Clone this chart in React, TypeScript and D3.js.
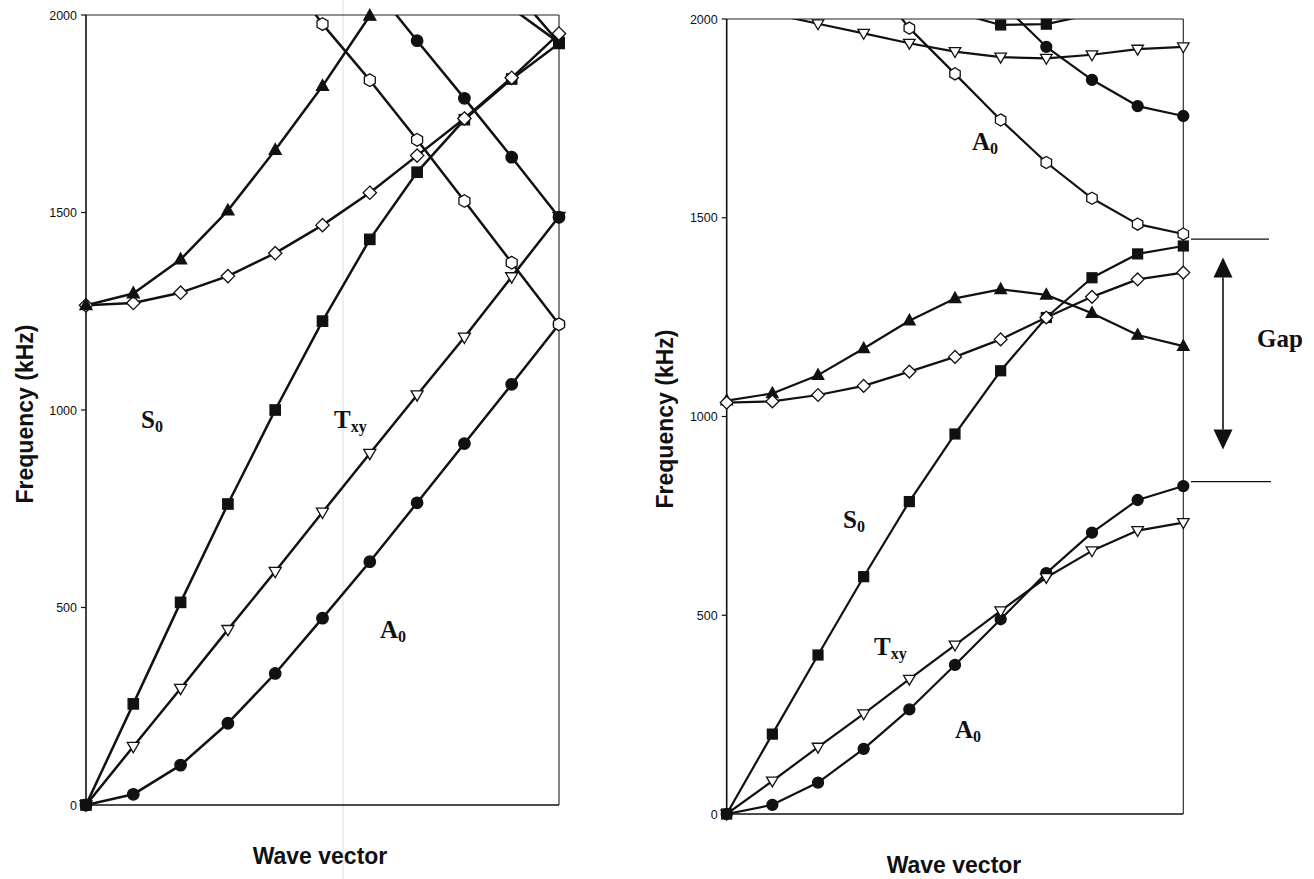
import React from "react";
import * as d3 from "d3";

// ---------- data ----------
const waveVectorSteps = [0, 1, 2, 3, 4, 5, 6, 7, 8, 9, 10];
const yTicks = [0, 500, 1000, 1500, 2000];

// Left panel (kHz)
const leftS0Square = [0, 256, 513, 762, 1000, 1225, 1432, 1602, 1735, 1838, 1928];
const leftTxyTriDown = [0, 148, 295, 444, 591, 741, 890, 1038, 1184, 1337, 1490];
const leftA0Circle = [0, 27, 101, 207, 333, 473, 616, 765, 915, 1065, 1217];
const leftDiamond = [1265, 1271, 1297, 1339, 1397, 1468, 1550, 1644, 1738, 1841, 1953];
const leftTriUp = [1265, 1295, 1381, 1505, 1658, 1820, 1998, null, null, null, null];
const leftHexagon = [null, null, null, null, 2140, 1977, 1835, 1684, 1529, 1373, 1217];
const leftUpperCircle = [null, null, null, null, null, null, 2083, 1935, 1789, 1640, 1488];
const leftFoldA = [null, null, null, null, null, null, null, null, null, 2017, 1930];
const leftFoldB = [null, null, null, null, null, null, null, null, null, 2069, 1930];

// Right panel (kHz)
const rightS0Square = [0, 201, 400, 597, 786, 956, 1115, 1249, 1349, 1409, 1429];
const rightTxyTriDown = [0, 83, 168, 252, 339, 425, 511, 595, 662, 713, 733];
const rightA0Circle = [0, 23, 79, 164, 263, 375, 490, 606, 708, 790, 825];
const rightDiamond = [1035, 1038, 1054, 1077, 1113, 1150, 1194, 1249, 1301, 1345, 1362];
const rightTriUp = [1040, 1058, 1104, 1171, 1241, 1297, 1320, 1306, 1260, 1205, 1177];
const rightHexagon = [null, null, null, 2120, 1977, 1862, 1746, 1639, 1549, 1484, 1459];
const rightUpperTriDown = [2040, 2013, 1988, 1964, 1939, 1918, 1904, 1901, 1910, 1924, 1930];
const rightUpperCircle = [null, null, null, null, null, null, 2042, 1930, 1847, 1781, 1756];
const rightUpperSquare = [null, null, null, null, null, 2017, 1985, 1987, 2012, null, null];

const gapBounds = [836, 1446];
const gapArrow = [917, 1400];

type Marker = "square" | "circle" | "triUp" | "triDown" | "diamond" | "hexagon";
interface Series { values: (number | null)[]; marker: Marker; filled: boolean; }

const leftSeries: Series[] = [
  { values: leftFoldA, marker: "square", filled: true },
  { values: leftFoldB, marker: "square", filled: true },
  { values: leftA0Circle, marker: "circle", filled: true },
  { values: leftTxyTriDown, marker: "triDown", filled: false },
  { values: leftUpperCircle, marker: "circle", filled: true },
  { values: leftS0Square, marker: "square", filled: true },
  { values: leftDiamond, marker: "diamond", filled: false },
  { values: leftTriUp, marker: "triUp", filled: true },
  { values: leftHexagon, marker: "hexagon", filled: false },
];

const rightSeries: Series[] = [
  { values: rightA0Circle, marker: "circle", filled: true },
  { values: rightTxyTriDown, marker: "triDown", filled: false },
  { values: rightUpperTriDown, marker: "triDown", filled: false },
  { values: rightUpperCircle, marker: "circle", filled: true },
  { values: rightS0Square, marker: "square", filled: true },
  { values: rightUpperSquare, marker: "square", filled: true },
  { values: rightTriUp, marker: "triUp", filled: true },
  { values: rightDiamond, marker: "diamond", filled: false },
  { values: rightHexagon, marker: "hexagon", filled: false },
];

interface Label { main: string; sub: string; x: number; y: number; }

function MarkerShape({ m, cx, cy, filled, s }: { m: Marker; cx: number; cy: number; filled: boolean; s: number }) {
  const fill = filled ? "#111" : "#fff";
  const common = { fill, stroke: "#111", strokeWidth: 1.3 };
  if (m === "square") return <rect x={cx - s * 0.45} y={cy - s * 0.45} width={s * 0.9} height={s * 0.9} {...common} />;
  if (m === "circle") return <circle cx={cx} cy={cy} r={s * 0.5} {...common} />;
  if (m === "triUp") {
    const w = s * 1.05, h = s * 0.95;
    return <polygon points={`${cx},${cy - h * 0.6} ${cx + w / 2},${cy + h * 0.4} ${cx - w / 2},${cy + h * 0.4}`} {...common} />;
  }
  if (m === "triDown") {
    const w = s * 1.05, h = s * 0.9;
    return <polygon points={`${cx},${cy + h * 0.6} ${cx + w / 2},${cy - h * 0.4} ${cx - w / 2},${cy - h * 0.4}`} {...common} />;
  }
  if (m === "diamond") {
    const r = s * 0.58;
    return <polygon points={`${cx},${cy - r} ${cx + r},${cy} ${cx},${cy + r} ${cx - r},${cy}`} {...common} />;
  }
  const r = s * 0.55;
  const pts = d3.range(6).map((k) => {
    const a = (-90 + 60 * k) * Math.PI / 180;
    return `${cx + r * Math.cos(a)},${cy + r * Math.sin(a)}`;
  }).join(" ");
  return <polygon points={pts} {...common} />;
}

function Panel({ id, x0, x1, yTop, yBottom, series, labels, lineW, markerSize, xLabelX, xLabelY, yLabelX, yLabelY }: any) {
  const x = d3.scaleLinear().domain([waveVectorSteps[0], waveVectorSteps[waveVectorSteps.length - 1]]).range([x0, x1]);
  const y = d3.scaleLinear().domain([0, 2000]).range([yBottom, yTop]);
  const line = d3.line<number | null>()
    .defined((v) => v != null)
    .x((_, i) => x(waveVectorSteps[i]))
    .y((v) => y(v as number));
  return (
    <g>
      <defs>
        <clipPath id={`clip-${id}`}>
          <rect x={x0} y={yTop} width={x1 - x0} height={yBottom - yTop} />
        </clipPath>
      </defs>
      {/* frame */}
      <line x1={x0} x2={x1} y1={yTop} y2={yTop} stroke="#222" strokeWidth={1.1} />
      <line x1={x1} x2={x1} y1={yTop} y2={yBottom} stroke="#222" strokeWidth={1.1} />
      <line x1={x0} x2={x1} y1={yBottom} y2={yBottom} stroke="#111" strokeWidth={1.6} />
      <line x1={x0} x2={x0} y1={yTop} y2={yBottom + 4} stroke="#111" strokeWidth={1.6} />
      {yTicks.map((t) => (
        <g key={t}>
          <line x1={x0 - 5} x2={x0} y1={y(t)} y2={y(t)} stroke="#111" strokeWidth={1.2} />
          <text x={x0 - 9} y={y(t)} dy="0.36em" textAnchor="end" fontFamily="'Liberation Sans', Arial, sans-serif" fontSize={12.5} fill="#111">{t}</text>
        </g>
      ))}
      <g clipPath={`url(#clip-${id})`}>
        {series.map((s: Series, i: number) => (
          <path key={i} d={line(s.values) || ""} fill="none" stroke="#111" strokeWidth={lineW} strokeLinejoin="round" />
        ))}
      </g>
      {series.map((s: Series, i: number) => (
        <g key={i}>
          {s.values.map((v, j) => (v != null && v <= 2000 ? (
            <MarkerShape key={j} m={s.marker} cx={x(waveVectorSteps[j])} cy={y(v)} filled={s.filled} s={markerSize} />
          ) : null))}
        </g>
      ))}
      {labels.map((l: Label, i: number) => (
        <text key={i} x={l.x} y={l.y} fontFamily="'Liberation Serif', 'Times New Roman', serif" fontWeight="bold" fontSize={25} fill="#111">
          {l.main}
          <tspan fontSize={16} dy={4}>{l.sub}</tspan>
        </text>
      ))}
      <text x={xLabelX} y={xLabelY} textAnchor="middle" fontFamily="'Liberation Sans', Arial, sans-serif" fontWeight="bold" fontSize={23} fill="#111">Wave vector</text>
      <text transform={`translate(${yLabelX},${yLabelY}) rotate(-90)`} textAnchor="middle" fontFamily="'Liberation Sans', Arial, sans-serif" fontWeight="bold" fontSize={23} fill="#111">Frequency (kHz)</text>
    </g>
  );
}

export default function App() {
  // right panel y scale used for gap annotation
  const ry = d3.scaleLinear().domain([0, 2000]).range([814, 19]);
  const ax = 1223;
  const headH = 20, headW = 19;
  return (
    <svg width={1314} height={879} style={{ position: "absolute", left: 0, top: 0, background: "#fff" }}>
      <rect x={0} y={0} width={1314} height={879} fill="#fff" />
      {/* scan artifact line */}
      <line x1={343} x2={343} y1={0} y2={879} stroke="#dcdcf2" strokeWidth={1} />
      <Panel id="left" x0={86} x1={559} yTop={15} yBottom={805} series={leftSeries} lineW={2.5} markerSize={11.5}
        labels={[
          { main: "S", sub: "0", x: 141, y: 428 },
          { main: "T", sub: "xy", x: 334, y: 428 },
          { main: "A", sub: "0", x: 380, y: 638 },
        ]}
        xLabelX={320} xLabelY={864} yLabelX={33} yLabelY={414} />
      <Panel id="right" x0={726.7} x1={1183.3} yTop={19} yBottom={814} series={rightSeries} lineW={2.2} markerSize={11}
        labels={[
          { main: "A", sub: "0", x: 972, y: 150 },
          { main: "S", sub: "0", x: 843, y: 528 },
          { main: "T", sub: "xy", x: 874, y: 655 },
          { main: "A", sub: "0", x: 955, y: 738 },
        ]}
        xLabelX={954} xLabelY={873} yLabelX={673} yLabelY={419} />
      {/* gap annotation */}
      <line x1={1191} x2={1269} y1={ry(gapBounds[1])} y2={ry(gapBounds[1])} stroke="#111" strokeWidth={1.3} />
      <line x1={1191} x2={1271} y1={ry(gapBounds[0])} y2={ry(gapBounds[0])} stroke="#111" strokeWidth={1.3} />
      <line x1={ax} x2={ax} y1={ry(gapArrow[1]) + headH} y2={ry(gapArrow[0]) - headH} stroke="#111" strokeWidth={1.6} />
      <polygon points={`${ax},${ry(gapArrow[1])} ${ax + headW / 2},${ry(gapArrow[1]) + headH} ${ax - headW / 2},${ry(gapArrow[1]) + headH}`} fill="#111" />
      <polygon points={`${ax},${ry(gapArrow[0])} ${ax + headW / 2},${ry(gapArrow[0]) - headH} ${ax - headW / 2},${ry(gapArrow[0]) - headH}`} fill="#111" />
      <text x={1257} y={347} fontFamily="'Liberation Serif', 'Times New Roman', serif" fontWeight="bold" fontSize={25} fill="#111">Gap</text>
    </svg>
  );
}
